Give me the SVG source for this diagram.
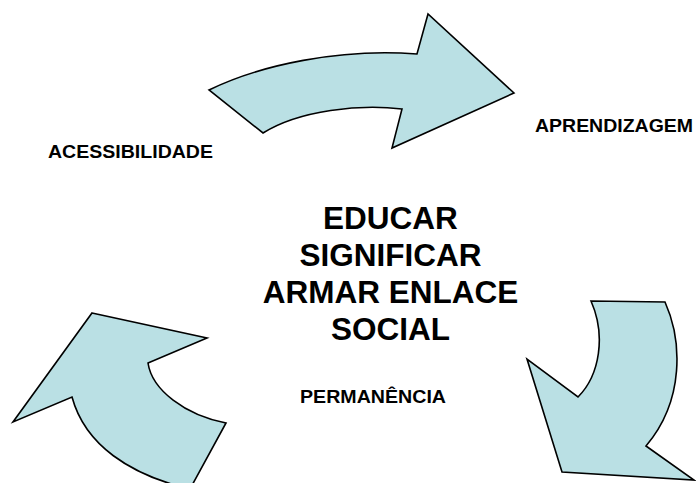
<svg xmlns="http://www.w3.org/2000/svg" width="696" height="483" viewBox="0 0 696 483">
  <style>
    .arrow { fill: #bae0e4; stroke: #000000; stroke-width: 1.6; stroke-linejoin: miter; }
    .lbl { font-family: "Liberation Sans", Arial, sans-serif; font-weight: bold; fill: #000000; }
    .small { font-size: 17.5px; }
    .big { font-size: 31.5px; text-anchor: middle; }
  </style>
  <rect x="0" y="0" width="696" height="483" fill="#ffffff"/>
  <g id="connectors">
    <path id="arrow-top" class="arrow" d="M209,90 C260,65 340,48 417,54 L428,14 L514,93 L392,148 L402,109 C360,104 300,110 263,133 Z"/>
    <path id="arrow-right" class="arrow" d="M591,301 L665,302 C682,340 685,400 646,446 L694,480 L562,472 L527,359 L578,397 C600,375 606,335 591,301 Z"/>
    <path id="arrow-left" class="arrow" d="M92,313 L207,338 L148,363 C152,390 185,415 226,423 L190,489 C130,475 85,445 72,397 L13,422 Z"/>
  </g>
  <g id="node-acessibilidade">
    <text class="lbl small" x="48" y="158" textLength="165" lengthAdjust="spacingAndGlyphs">ACESSIBILIDADE</text>
  </g>
  <g id="node-aprendizagem">
    <text class="lbl small" x="535" y="132" textLength="158" lengthAdjust="spacingAndGlyphs">APRENDIZAGEM</text>
  </g>
  <g id="node-permanencia">
    <text class="lbl small" x="300" y="402.5" textLength="146" lengthAdjust="spacingAndGlyphs">PERMANÊNCIA</text>
  </g>
  <g id="node-center">
    <text class="lbl big" x="390.5" y="228.5">EDUCAR</text>
    <text class="lbl big" x="390.5" y="265.5">SIGNIFICAR</text>
    <text class="lbl big" x="390.5" y="302.5">ARMAR ENLACE</text>
    <text class="lbl big" x="390.5" y="339.5">SOCIAL</text>
  </g>
</svg>
